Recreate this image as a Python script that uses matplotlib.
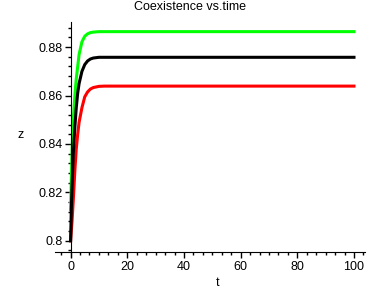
import numpy as np
import matplotlib.pyplot as plt
from matplotlib.ticker import MultipleLocator

plt.rcParams['font.family'] = ['Liberation Sans', 'DejaVu Sans']

# Waktu dan nilai z yang dibaca dari gambar
t = [0, 0.25, 0.5, 0.75, 1, 1.5, 2, 2.5, 3, 4, 5, 6, 7, 8, 10, 12, 15,
     20, 30, 40, 50, 60, 70, 80, 90, 100]
z_green = [0.813, 0.825, 0.836, 0.845, 0.851, 0.860, 0.867, 0.872, 0.877,
           0.8822, 0.8845, 0.8855, 0.8860, 0.8862, 0.8864, 0.8864, 0.8864,
           0.8864, 0.8864, 0.8864, 0.8864, 0.8864, 0.8864, 0.8864, 0.8864, 0.8864]
z_black = [0.800, 0.813, 0.822, 0.830, 0.837, 0.847, 0.855, 0.861, 0.865,
           0.870, 0.8728, 0.8743, 0.8751, 0.8755, 0.8758, 0.8758, 0.8758,
           0.8758, 0.8758, 0.8758, 0.8758, 0.8758, 0.8758, 0.8758, 0.8758, 0.8758]
z_red = [0.800, 0.804, 0.808, 0.813, 0.818, 0.829, 0.838, 0.844, 0.849,
         0.855, 0.8595, 0.8615, 0.8627, 0.8633, 0.8638, 0.8639, 0.8639,
         0.8639, 0.8639, 0.8639, 0.8639, 0.8639, 0.8639, 0.8639, 0.8639, 0.8639]

fig = plt.figure(figsize=(3.88, 2.88), dpi=100)
ax = fig.add_axes([0.1418, 0.1076, 0.799, 0.817])

ax.plot(t, z_red, color='#ff0000', lw=2.2)
ax.plot(t, z_green, color='#00ff00', lw=2.2)
ax.plot(t, z_black, color='black', lw=2.2)

ax.set_xlim(-5.5, 103.9)
ax.set_ylim(0.7933, 0.8905)

# Sumbu gaya Maple: garis sumbu melewati titik asal
ax.spines['left'].set_position(('data', 0))
ax.spines['bottom'].set_position(('data', 0.7953))
ax.spines['top'].set_visible(False)
ax.spines['right'].set_visible(False)

ax.set_xticks([0, 20, 40, 60, 80, 100])
ax.set_xticklabels(['0', '20', '40', '60', '80', '100'])
ax.set_yticks([0.80, 0.82, 0.84, 0.86, 0.88])
ax.set_yticklabels(['0.8', '0.82', '0.84', '0.86', '0.88'])
ax.xaxis.set_minor_locator(MultipleLocator(20 / 6))
ax.yaxis.set_minor_locator(MultipleLocator(0.004))
ax.tick_params(axis='both', which='major', length=4, width=1, labelsize=9, pad=2)
ax.tick_params(axis='both', which='minor', length=2.5, width=1)

ax.set_xlabel('t', fontsize=9)
ax.xaxis.set_label_coords(0.524, -0.085)
ax.set_ylabel('z', fontsize=9, rotation=0, va='center')
ax.yaxis.set_label_coords(-0.11, 0.518)
fig.text(0.49, 0.965, 'Coexistence vs.time', fontsize=9,
         ha='center', va='baseline')

fig.savefig('out.png', dpi=100)
